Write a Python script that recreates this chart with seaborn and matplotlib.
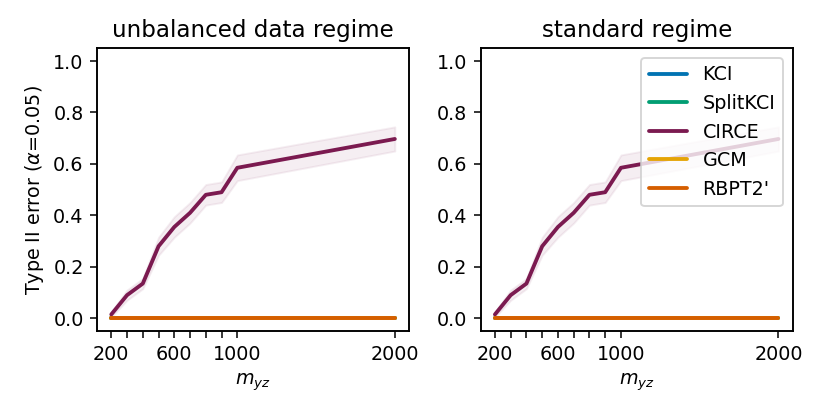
import numpy as np
import seaborn as sns
import matplotlib.pyplot as plt

# sample sizes and type II error rates (same in both regimes)
m_yz = [200, 300, 400, 500, 600, 700, 800, 900, 1000, 2000]
circe = [0.015, 0.09, 0.135, 0.28, 0.355, 0.41, 0.48, 0.49, 0.585, 0.697]
circe_ci = [0.01, 0.02, 0.02, 0.035, 0.04, 0.04, 0.04, 0.04, 0.05, 0.047]
zeros = [0.0] * len(m_yz)

methods = ["KCI", "SplitKCI", "CIRCE", "GCM", "RBPT2'"]
colors = ["#0173b2", "#029e73", "#7b1a50", "#e5a405", "#d55e00"]
titles = ["unbalanced data regime", "standard regime"]

xtick_labels = ["200", "", "", "", "600", "", "", "", "1000", "2000"]

sns.set_style("white")
plt.rcParams.update({
    "axes.edgecolor": "black",
    "axes.labelcolor": "black",
    "text.color": "black",
    "xtick.color": "black",
    "ytick.color": "black",
    "xtick.bottom": True,
    "ytick.left": True,
    "xtick.major.size": 3.5,
    "ytick.major.size": 3.5,
    "xtick.major.width": 0.8,
    "ytick.major.width": 0.8,
})

DPI = 138
fig, axes = plt.subplots(1, 2, figsize=(830 / DPI, 415 / DPI), dpi=DPI)
fig.subplots_adjust(left=0.117, right=0.955, top=0.884, bottom=0.202, wspace=0.23)

for ax, title in zip(axes, titles):
    for name, col in zip(methods, colors):
        y = circe if name == "CIRCE" else zeros
        sns.lineplot(x=m_yz, y=y, ax=ax, color=col, lw=2, label=name)
        if name == "CIRCE":
            lo = np.array(circe) - np.array(circe_ci)
            hi = np.array(circe) + np.array(circe_ci)
            ax.fill_between(m_yz, lo, hi, color=col, alpha=0.07)
    ax.set_title(title)
    ax.set_ylim(-0.05, 1.05)
    ax.set_yticks([0.0, 0.2, 0.4, 0.6, 0.8, 1.0])
    ax.set_xticks(m_yz, labels=xtick_labels)
    ax.set_xlabel("$m_{yz}$")
    for s in ax.spines.values():
        s.set_color("black")
        s.set_linewidth(1.0)

axes[0].set_ylabel(r"Type II error ($\alpha$=0.05)")
axes[0].get_legend().remove()
axes[1].legend(loc="upper right")

plt.savefig("out.png", dpi=DPI)
